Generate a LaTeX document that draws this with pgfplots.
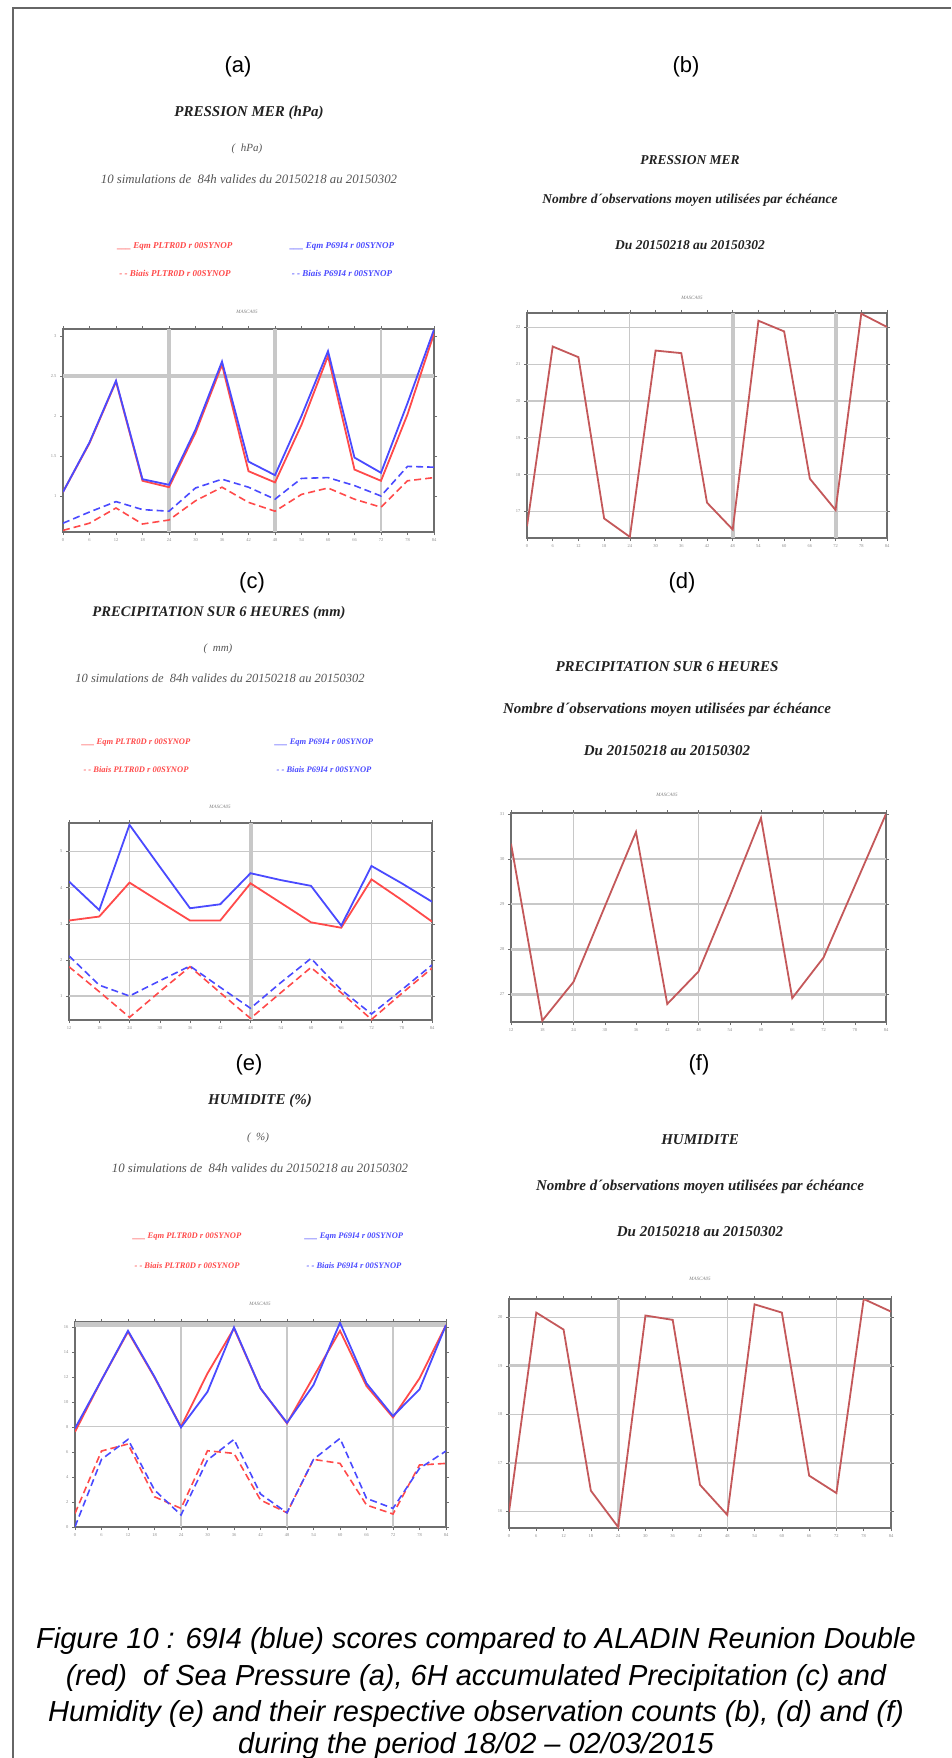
\documentclass[border=0pt]{standalone}
\usepackage{fontspec}
\setmainfont{Liberation Serif}
\newfontfamily\sansf{Liberation Sans}
\usepackage{pgfplots}
\pgfplotsset{compat=1.18}

\definecolor{rl}{HTML}{FF4A4A}
\definecolor{bl}{HTML}{4A4AFF}
\definecolor{ol}{HTML}{C4585A}
\definecolor{gridc}{HTML}{C8C8C8}
\definecolor{axc}{HTML}{6E6E6E}
\definecolor{ttl}{HTML}{222222}
\definecolor{sub}{HTML}{555555}

\pgfplotsset{
 panel/.style={
  scale only axis,
  anchor=south west,
  axis line style={axc, line width=1.4pt},
  tick style={axc, line width=0.5pt},
  major tick length=3pt,
  tick align=outside,
  tick pos=both,
  xticklabel pos=bottom, yticklabel pos=left,
  ticklabel style={font=\fontsize{4.5}{5}\selectfont, text=black!45},
  /pgf/number format/assume math mode=true,
  clip=true,
 },
 eqm/.style={line width=1.8pt},
 bias/.style={line width=1.6pt, dash pattern=on 7pt off 4pt},
}
\newcommand\vg[2]{\draw[gridc, line width=#2] ({axis cs:#1,0}|-{rel axis cs:0,0}) -- ({axis cs:#1,0}|-{rel axis cs:0,1});}
\newcommand\hg[2]{\draw[gridc, line width=#2] ({rel axis cs:0,0}|-{axis cs:0,#1}) -- ({rel axis cs:1,0}|-{axis cs:0,#1});}

\newcommand\ttlfont[1]{\fontsize{#1}{#1}\selectfont\bfseries\itshape}
\newcommand\subfont[1]{\fontsize{#1}{#1}\selectfont\itshape}

\begin{document}
\begin{tikzpicture}[x=1pt,y=1pt]
\fill[white] (0,0) rectangle (951,-1758);
\draw[black!60, line width=1.2pt] (13,-1758) -- (13,-8) -- (951,-8);

% ---------- labels ----------
\foreach \t/\x/\y in {a/238/67, b/686/67, c/252/583, d/682/583, e/249/1065, f/699/1065}
  \node[font=\sansf\fontsize{22}{22}\selectfont] at (\x,-\y) {(\t)};

% ---------- (a) texts ----------
\node[font=\ttlfont{15}, text=ttl] at (249,-113) {PRESSION MER (hPa)};
\node[font=\subfont{11}, text=sub] at (247,-149) {(\ \ hPa)};
\node[font=\subfont{12.8}, text=sub] at (249,-179) {10 simulations de \ 84h valides du 20150218 au 20150302};
\node[font=\subfont{9}\bfseries, text=rl] at (175,-246) {\_\_\_ Eqm PLTR0D r 00SYNOP};
\node[font=\subfont{9}\bfseries, text=bl] at (342,-246) {\_\_\_ Eqm P69I4 r 00SYNOP};
\node[font=\subfont{9}\bfseries, text=rl] at (175,-273) {- - Biais PLTR0D r 00SYNOP};
\node[font=\subfont{9}\bfseries, text=bl] at (342,-273) {- - Biais P69I4 r 00SYNOP};
\node[font=\subfont{5}, text=black!50] at (247,-312) {MASCA05};

% ---------- (b) texts ----------
\node[font=\ttlfont{13.5}, text=ttl] at (690,-160) {PRESSION MER};
\node[font=\ttlfont{13.5}, text=ttl] at (690,-200) {Nombre d´observations moyen utilisées par échéance};
\node[font=\ttlfont{13.5}, text=ttl] at (690,-245) {Du 20150218 au 20150302};
\node[font=\subfont{5}, text=black!50] at (692,-298) {MASCA05};

% ---------- (c) texts ----------
\node[font=\ttlfont{14.6}, text=ttl] at (219,-613) {PRECIPITATION SUR 6 HEURES (mm)};
\node[font=\subfont{11}, text=sub] at (218,-649) {(\ \ mm)};
\node[font=\subfont{12.5}, text=sub] at (220,-678) {10 simulations de \ 84h valides du 20150218 au 20150302};
\node[font=\subfont{8.5}\bfseries, text=rl] at (136,-743) {\_\_\_ Eqm PLTR0D r 00SYNOP};
\node[font=\subfont{8.5}\bfseries, text=bl] at (324,-743) {\_\_\_ Eqm P69I4 r 00SYNOP};
\node[font=\subfont{8.5}\bfseries, text=rl] at (136,-770) {- - Biais PLTR0D r 00SYNOP};
\node[font=\subfont{8.5}\bfseries, text=bl] at (324,-770) {- - Biais P69I4 r 00SYNOP};
\node[font=\subfont{5}, text=black!50] at (220,-807) {MASCA05};

% ---------- (d) texts ----------
\node[font=\ttlfont{15}, text=ttl] at (667,-667) {PRECIPITATION SUR 6 HEURES};
\node[font=\ttlfont{15}, text=ttl] at (667,-710) {Nombre d´observations moyen utilisées par échéance};
\node[font=\ttlfont{15}, text=ttl] at (667,-751) {Du 20150218 au 20150302};
\node[font=\subfont{5}, text=black!50] at (667,-795) {MASCA05};

% ---------- (e) texts ----------
\node[font=\ttlfont{15}, text=ttl] at (260,-1101) {HUMIDITE (\%)};
\node[font=\subfont{11}, text=sub] at (258,-1138) {(\ \ \%)};
\node[font=\subfont{12.8}, text=sub] at (260,-1168) {10 simulations de \ 84h valides du 20150218 au 20150302};
\node[font=\subfont{8.5}\bfseries, text=rl] at (187,-1237) {\_\_\_ Eqm PLTR0D r 00SYNOP};
\node[font=\subfont{8.5}\bfseries, text=bl] at (354,-1237) {\_\_\_ Eqm P69I4 r 00SYNOP};
\node[font=\subfont{8.5}\bfseries, text=rl] at (187,-1266) {- - Biais PLTR0D r 00SYNOP};
\node[font=\subfont{8.5}\bfseries, text=bl] at (354,-1266) {- - Biais P69I4 r 00SYNOP};
\node[font=\subfont{5}, text=black!50] at (260,-1304) {MASCA05};

% ---------- (f) texts ----------
\node[font=\ttlfont{15}, text=ttl] at (700,-1140) {HUMIDITE};
\node[font=\ttlfont{15}, text=ttl] at (700,-1187) {Nombre d´observations moyen utilisées par échéance};
\node[font=\ttlfont{15}, text=ttl] at (700,-1232) {Du 20150218 au 20150302};
\node[font=\subfont{5}, text=black!50] at (700,-1279) {MASCA05};

% ---------- caption ----------
\begin{scope}[every node/.style={font=\sansf\itshape\fontsize{29}{29}\selectfont, anchor=base, inner sep=0pt}]
\node at (476,-1648) {Figure 10 : 69I4 (blue) scores compared to ALADIN Reunion Double};
\node at (476,-1685) {(red) \ of Sea Pressure (a), 6H accumulated Precipitation (c) and};
\node at (476,-1721) {Humidity (e) and their respective observation counts (b), (d) and (f)};
\node at (476,-1753) {during the period 18/02 – 02/03/2015};
\end{scope}

% ---------- (a) axis ----------
\begin{axis}[panel, at={(63pt,-532pt)}, width=371pt, height=203pt,
  xmin=0, xmax=84, ymin=0.55, ymax=3.087, xtick={0,6,...,84}, ytick={1,1.5,2,2.5,3}]
\vg{24}{4pt}\vg{48}{4pt}\vg{72}{1.5pt}\hg{2.5}{4pt}
\addplot[eqm, rl] coordinates {(0,1.05)(6,1.66)(12,2.43)(18,1.19)(24,1.11)(30,1.79)(36,2.64)(42,1.31)(48,1.17)(54,1.89)(60,2.75)(66,1.33)(72,1.19)(78,2.02)(84,3.03)};
\addplot[eqm, bl] coordinates {(0,1.05)(6,1.67)(12,2.44)(18,1.21)(24,1.14)(30,1.83)(36,2.68)(42,1.43)(48,1.26)(54,2.00)(60,2.81)(66,1.48)(72,1.29)(78,2.16)(84,3.08)};
\addplot[bias, rl] coordinates {(0,0.57)(6,0.66)(12,0.85)(18,0.65)(24,0.70)(30,0.94)(36,1.11)(42,0.92)(48,0.81)(54,1.02)(60,1.10)(66,0.96)(72,0.86)(78,1.19)(84,1.23)};
\addplot[bias, bl] coordinates {(0,0.66)(6,0.80)(12,0.93)(18,0.83)(24,0.81)(30,1.10)(36,1.21)(42,1.11)(48,0.96)(54,1.22)(60,1.23)(66,1.13)(72,1.00)(78,1.37)(84,1.36)};
\end{axis}

% ---------- (b) axis ----------
\begin{axis}[panel, at={(527pt,-538pt)}, width=360pt, height=225pt,
  xmin=0, xmax=84, ymin=16.28, ymax=22.39, xtick={0,6,...,84}, ytick={17,...,22}]
\hg{17}{1.2pt}\hg{18}{1.2pt}\hg{19}{1.2pt}\hg{20}{1.2pt}\hg{21}{1.2pt}\hg{22}{1.2pt}
\vg{24}{1.2pt}\vg{48}{4pt}\vg{72}{4pt}
\addplot[eqm, ol] coordinates {(0,16.60)(6,21.48)(12,21.19)(18,16.81)(24,16.31)(30,21.37)(36,21.30)(42,17.24)(48,16.51)(54,22.18)(60,21.89)(66,17.89)(72,17.04)(78,22.37)(84,22.01)};
\end{axis}

% ---------- (c) axis ----------
\begin{axis}[panel, at={(69pt,-1020pt)}, width=363pt, height=197pt,
  xmin=12, xmax=84, ymin=0.335, ymax=5.79, xtick={12,18,...,84}, ytick={1,...,5}]
\hg{1}{1.2pt}\hg{2}{1.2pt}\hg{3}{1.2pt}\hg{4}{1.2pt}\hg{5}{1.2pt}
\vg{24}{1.2pt}\vg{48}{4pt}\vg{72}{1.2pt}
\addplot[eqm, rl] coordinates {(12,3.09)(18,3.20)(24,4.14)(30,3.61)(36,3.09)(42,3.09)(48,4.12)(54,3.58)(60,3.04)(66,2.89)(72,4.23)(78,3.66)(84,3.06)};
\addplot[eqm, bl] coordinates {(12,4.17)(18,3.38)(24,5.74)(30,4.58)(36,3.43)(42,3.54)(48,4.40)(54,4.21)(60,4.05)(66,2.95)(72,4.60)(78,4.12)(84,3.61)};
\addplot[bias, rl] coordinates {(12,1.81)(18,1.12)(24,0.41)(30,1.12)(36,1.81)(42,1.09)(48,0.38)(54,1.09)(60,1.79)(66,1.09)(72,0.35)(78,1.07)(84,1.77)};
\addplot[bias, bl] coordinates {(12,2.11)(18,1.30)(24,1.00)(30,1.42)(36,1.83)(42,1.24)(48,0.66)(54,1.37)(60,2.04)(66,1.17)(72,0.50)(78,1.17)(84,1.86)};
\end{axis}

% ---------- (d) axis ----------
\begin{axis}[panel, at={(511pt,-1022pt)}, width=375pt, height=209pt,
  xmin=12, xmax=84, ymin=26.38, ymax=31.02, xtick={12,18,...,84}, ytick={27,...,31}]
\hg{27}{3pt}\hg{28}{3pt}\hg{29}{1.2pt}\hg{30}{1.2pt}
\vg{24}{1.2pt}\vg{48}{1.2pt}\vg{72}{1.2pt}
\addplot[eqm, ol] coordinates {(12,30.34)(18,26.41)(24,27.27)(30,28.94)(36,30.60)(42,26.78)(48,27.50)(54,29.17)(60,30.91)(66,26.91)(72,27.81)(78,29.40)(84,31.00)};
\end{axis}

% ---------- (e) axis ----------
\begin{axis}[panel, at={(75pt,-1527pt)}, width=371pt, height=205pt,
  xmin=0, xmax=84, ymin=-0.02, ymax=16.38, xtick={0,6,...,84}, ytick={0,2,...,16}]
\hg{8}{1.2pt}\hg{16.2}{5pt}
\vg{24}{1.2pt}\vg{48}{1.2pt}\vg{72}{1.2pt}
\addplot[eqm, rl] coordinates {(0,7.60)(6,11.74)(12,15.60)(18,11.95)(24,8.00)(30,12.27)(36,15.87)(42,11.07)(48,8.27)(54,12.00)(60,15.68)(66,11.26)(72,8.75)(78,11.87)(84,16.14)};
\addplot[eqm, bl] coordinates {(0,7.87)(6,11.74)(12,15.68)(18,12.00)(24,7.95)(30,10.80)(36,15.95)(42,11.07)(48,8.32)(54,11.34)(60,16.32)(66,11.47)(72,8.86)(78,10.99)(84,16.14)};
\addplot[bias, rl] coordinates {(0,1.07)(6,6.06)(12,6.62)(18,2.40)(24,1.47)(30,6.08)(36,5.87)(42,2.14)(48,1.12)(54,5.39)(60,5.07)(66,1.74)(72,1.02)(78,4.94)(84,5.07)};
\addplot[bias, bl] coordinates {(0,0.00)(6,5.39)(12,6.99)(18,2.94)(24,0.94)(30,5.34)(36,6.99)(42,2.62)(48,1.12)(54,5.39)(60,7.07)(66,2.27)(72,1.47)(78,4.67)(84,6.06)};
\end{axis}

% ---------- (f) axis ----------
\begin{axis}[panel, at={(509pt,-1528pt)}, width=382pt, height=229pt,
  xmin=0, xmax=84, ymin=15.66, ymax=20.38, xtick={0,6,...,84}, ytick={16,...,20}]
\hg{16}{1.2pt}\hg{17}{1.2pt}\hg{18}{1.2pt}\hg{19}{3pt}\hg{20}{1.2pt}
\vg{24}{3pt}\vg{48}{1.2pt}\vg{72}{1.2pt}
\addplot[eqm, ol] coordinates {(0,15.99)(6,20.10)(12,19.75)(18,16.43)(24,15.68)(30,20.04)(36,19.95)(42,16.55)(48,15.93)(54,20.27)(60,20.10)(66,16.74)(72,16.38)(78,20.38)(84,20.12)};
\end{axis}

\pgfresetboundingbox
\useasboundingbox (0,0) rectangle (951,-1758);
\end{tikzpicture}
\end{document}
